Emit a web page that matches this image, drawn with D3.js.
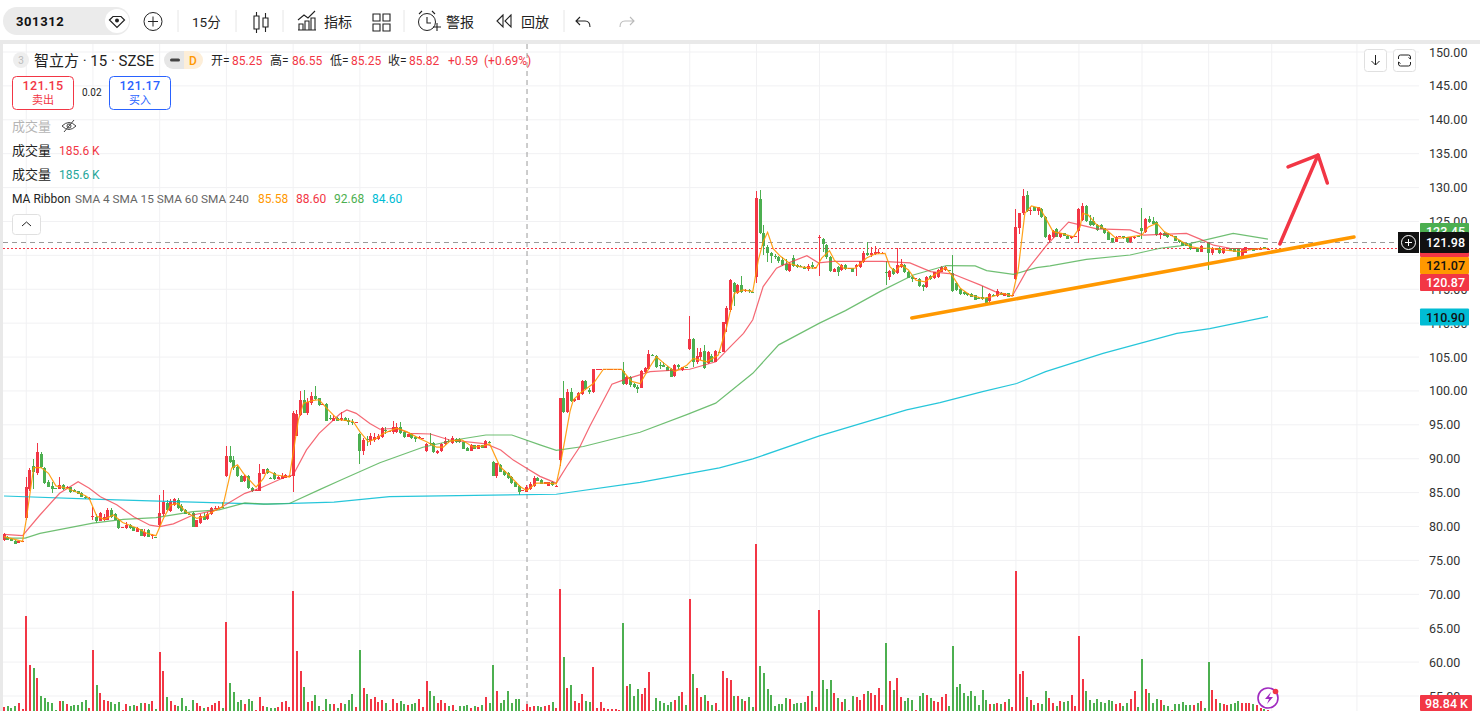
<!DOCTYPE html>
<html>
<head>
<meta charset="utf-8">
<script src="https://cdn.jsdelivr.net/npm/d3@7"></script>
<style>
	body { margin: 0; background: #fff; overflow: hidden; }
	text { font-family: Roboto, "Noto Sans CJK SC", sans-serif; }
</style>
</head>
<body>
<script>
// 15 minute bars, one group of ten per line
const opens = [
	78,78.5,78.2,77.9,77.6,77.8,81.2,85.5,88.9,87.85,
	90.7,88.7,86.6,86,85.65,85.55,86.1,85.75,85.8,85.4,
	85.2,85,84.35,84.2,81.5,81.35,80.85,81,81,82.45,
	81.8,81,79.85,79.75,80.2,79.9,79.25,79.6,78.6,79.5,
	78.7,78.45,80.2,81.85,83.4,82.35,83.2,83.9,83.1,82.45,
	81.9,82,80,80.5,81.55,81.05,81.8,82.7,82.75,82.95,
	87.45,90.4,89.8,88.75,87.45,86.65,87.45,85.75,85.3,85.3,
	87.75,88.45,87.2,87.85,87.05,87.05,87.15,87.4,87.45,93.4,
	96.45,98.65,96.7,98.2,99.3,98.9,98,98.05,96,95.6,
	96.05,95.65,96.05,95.7,95.35,95.35,93.65,91.15,92.9,92.6,
	92.75,92.9,93.25,94.2,94,93.9,94,94.75,93.95,93.25,
	93.65,93.25,93,93,91.15,92.3,92.3,90.8,91.15,92.2,
	92.65,92.3,92.9,92.9,92.4,91.6,91.15,92,91.5,92,
	91.65,92.45,89.5,87.4,89.1,88.25,87.85,87.35,86.5,86,
	85.3,85.15,85.55,86,87.2,86.9,86.3,86.05,86.6,86,
	89.85,98.9,96.85,99.9,98.45,98.7,99.5,101.4,100.15,99.8,
	103.2,103.2,103.2,103.2,103.2,103.2,103.2,102.95,101,102.1,
	101,100.65,100.5,102.75,103.2,105.32,105.2,103.85,103.85,103.6,
	103.3,102.25,103.8,103.1,103.55,106.2,107.65,104.2,105,105.9,
	104.1,105.2,104.3,105.8,105.8,109.9,111.95,115.9,114.4,115.6,
	114.9,114.9,114.55,116.75,128.3,123.25,121.3,120.3,119.95,119.7,
	119.3,118.8,117.75,119.55,118.6,118.5,118.3,117.95,118.6,118.25,
	122.5,122.45,121.5,119.8,117.6,118.3,117.85,118.6,118.05,118.1,
	118.25,118.3,119,120.4,120.1,120.15,120.4,120.4,117.5,116.85,
	118,117.45,118.25,118.6,117.6,116.85,116.6,116.45,115.65,115.3,
	116.95,116.6,116.8,117.6,117.85,117.8,117.35,115.95,115.05,114.65,
	114.4,114.3,114.15,113.7,113.9,113.65,113.2,114.2,114.05,114.5,
	114.05,114.4,114,116.5,124,126.2,128.9,126.65,127.1,126.6,
	126.9,125.7,122.3,122.65,123.9,122.65,123.25,122.9,122.5,122.75,
	123.65,125.2,127.3,125,125,124.5,124.5,124,123.4,122.5,
	122,122.75,122.85,122.65,121.9,122.5,122.8,124.1,123.5,125.35,
	125.1,124.85,123,123.35,123.25,122.9,122.85,122.25,121.95,121.8,
	121.7,121.05,121.1,120.55,121.05,121.9,120.3,120.85,121.15,120.3,
	120.95,121.05,121.05,121.05,119.9,120.4,120.8,121.05,120.9,120.8,
	121.25,120.95
];
const highs = [
	79,78.6,78.3,78,77.9,77.9,87.3,88.6,89.9,92.3,
	91.05,88.8,86.9,86.6,85.7,87.3,86.2,86,85.9,85.5,
	85.3,85.1,84.5,84.3,82.95,81.9,82.2,81.9,82.7,82.7,
	82,81.1,79.95,80.6,80.4,80,79.9,79.7,79.7,79.6,
	78.85,78.5,84.65,85.4,83.9,84,84.2,84.15,83.3,82.6,
	82,82.1,81,81.8,82,82.1,82.85,83.1,83.1,83.6,
	91.95,91.95,90.4,88.9,87.6,87.6,87.6,85.9,85.5,89.2,
	88.5,88.6,87.3,88,87.5,87.9,87.7,87.6,97,97.2,
	100,100.15,98.9,99.9,100.7,99,98.1,98.2,96.4,96.5,
	96.2,96.9,96.2,96,95.9,95.45,93.8,93,93.4,93.8,
	93.75,93.6,94.7,94.7,94.1,95.6,95.2,95.4,94.1,93.7,
	93.8,93.4,93.3,93.1,92.35,93.75,92.4,91.3,92.35,93.25,
	92.9,93.4,93,93,92.5,91.7,92.15,92.1,92.05,92.05,
	92.7,92.6,89.6,89.4,89.2,88.4,88,87.5,86.6,86.1,
	85.4,86.1,86.5,87.4,87.3,87,86.55,86.6,86.7,86.1,
	99,101.5,100.3,100.5,98.9,99.9,101.6,101.6,100.5,103.3,
	103.25,103.25,103.25,103.25,103.25,103.25,103.25,104.3,102.2,102.2,
	101.1,100.9,103.1,103.6,106,105.4,105.3,104.3,104.3,103.7,
	103.4,104,104,103.6,103.6,111,107.8,106.3,106.3,106.8,
	105.9,105.4,106,105.9,110.2,112.5,116.5,116,115.8,116.9,
	115.1,115.1,114.6,129.5,129.65,124.5,121.55,120.5,120.2,119.9,
	119.8,119.5,119,120,118.7,118.6,118.4,118.7,119,118.35,
	123,122.6,121.7,119.9,118.1,118.5,118.7,118.7,118.15,118.2,
	118.7,119.2,120.6,122,121.3,121.4,121,120.5,119.1,117.9,
	118.1,121.05,119.5,118.7,117.7,117,116.7,116.6,115.8,117,
	117.1,117.6,118,118.4,118.5,117.85,120.05,116.1,115.2,114.7,
	114.5,114.4,114.2,113.8,115.5,113.85,114.4,114.3,115,114.6,
	114.5,114.5,114.2,126.8,126.3,129.75,129.5,127.1,127.2,127.2,
	127,125.8,123.1,123.7,124,123.3,123.3,123,122.9,122.85,
	127,127.7,127.4,126,125.7,124.6,124.6,124.1,123.5,122.6,
	122.8,122.85,122.9,122.7,122.7,122.8,122.85,126.95,125.5,125.8,
	125.7,125,123.5,123.4,123.3,123,122.9,122.3,122,121.85,
	121.75,121.15,121.15,121.5,121.1,122,121.2,121.1,121.2,121.1,
	121.1,121.1,121.1,121.1,121,121.25,121.1,121.1,121,121.2,
	121.3,121.05
];
const lows = [
	77.9,78,77.8,77.4,77.5,77.8,80.9,85.3,85.6,87.6,
	88.6,86.3,85.8,85,85.6,85.5,85.4,85.6,85,85.1,
	84.85,84.4,84,84.2,81,80.5,80.8,80.8,80.9,81.3,
	80.9,79.7,79.8,79.6,79.7,79.3,79.2,78.6,78.5,78.4,
	78.2,78.4,80,81.5,82.3,82.2,83,82.6,82.2,81.8,
	81.8,79.9,79.9,80.4,80.9,81,81.7,82.6,82.6,82.8,
	87.3,89.4,88.4,87.3,86.5,86.6,85.6,85.1,85.3,85.2,
	87.7,87.7,87,86.9,87,87,87.1,87.3,85.15,93.3,
	96.3,96.7,96.5,98,98.6,97.8,97.95,95.5,95.7,95.5,
	95.5,95.5,95.5,95,95,95.3,89.25,90.55,91.9,92,
	92.5,92.8,93.1,93.6,93.95,93.7,93.8,93.7,93.1,93.2,
	92.9,92.5,92.95,92.95,91.05,92.1,90.9,90.7,91.05,92,
	92.3,92.2,92.3,92.35,91.45,91.1,91.1,91.45,91.45,91.55,
	91.6,92.3,87.4,87.2,88,87.4,87.05,86.3,85.8,84.65,
	85.25,85.1,85.4,85.9,86.65,86.25,86.25,86,86.05,85.95,
	88.95,96.7,96.7,98.4,98.4,98.6,99.4,100.1,99.6,99.7,
	103.15,103.15,103.15,103.15,103.15,103.15,103.15,100.9,100.9,100.6,
	100.4,99.65,100.4,102.6,103.1,105.25,103.4,103.2,103.5,102.9,
	102,102.1,103.3,103,103.4,106.1,103.6,104,104.5,103.3,
	104,104.2,104.2,105.7,105.7,108.75,111.7,112.6,114.3,114.4,
	114.6,114.4,114.45,115.95,123.1,120.05,119,118.9,119.5,118.9,
	118.5,117.7,117.6,118.3,118.2,118.25,118,117.7,118,118.2,
	116.95,120.5,119.5,117.6,117.5,116.95,117.7,117.8,118,117.55,
	116.95,118.2,118.9,119.9,119.7,120,120.2,120.35,115.6,116.4,
	117.1,117.3,118.1,117.4,116.6,116.1,116.55,115.4,114.8,115.2,
	116.4,116.5,116.7,117.5,117.7,117.7,114.6,114.8,114.1,114.2,
	114.05,113.85,113.35,113.55,113.4,112.9,113,114.05,113.9,114.1,
	114,113.85,113.95,116.3,123.2,125.9,126.4,126,126.55,125.9,
	125.55,122.6,122,122.6,122.7,122.6,122.85,122.35,122.45,122.7,
	121.8,125.1,124.9,124.3,124.4,123.6,123.85,123.2,122.2,121.85,
	121.95,122.7,122.45,121.85,121.85,122.45,122.65,122.4,123.3,124.8,
	124.6,122.9,122.4,122.85,122.5,122.85,122.1,121.85,121.4,121.4,
	120.85,121,120.5,120.5,120.9,117.85,120,120.8,120.25,120.25,
	120.9,120.65,120.5,119.75,119.85,120.35,120.75,120.6,120.85,120.75,
	120.9,120.9
];
const closes = [
	78.9,78,77.8,77.4,77.85,77.85,85.9,88.35,88.05,91,
	88.75,86.4,85.9,85.55,85.6,86.15,85.5,85.8,85.1,85.1,
	84.85,84.4,84.2,84.25,81.6,80.85,82,81.4,82.45,81.4,
	81,79.8,79.9,80.2,79.8,79.4,79.75,78.65,79.25,78.5,
	78.75,78.4,82,83.6,82.45,83.75,84.05,82.7,82.3,81.85,
	81.85,80,80.9,81.55,81,81.85,82.7,82.75,82.8,82.9,
	90.4,89.5,88.6,87.45,86.6,87.45,85.75,85.25,85.4,87.85,
	88.45,87.85,87.1,87,87.35,87.45,87.6,87.5,96.8,96.55,
	98.65,96.8,98.4,99.3,98.75,97.9,98.05,95.6,95.95,96.05,
	95.6,96,95.6,95.35,95.3,95.4,91.15,92.75,92.7,93.35,
	93.15,93.4,94.5,94.1,94.05,94.7,94.65,93.85,93.25,93.65,
	93,92.9,93.25,93.05,92.2,92.2,90.95,91.15,92.2,92.6,
	92.5,93,92.4,92.4,91.5,91.15,92.1,91.5,92,91.6,
	92.65,92.4,87.45,89.3,88.1,87.55,87.1,86.4,85.9,85.15,
	85.35,85.8,86.25,87.1,86.7,86.3,86.5,86.55,86.1,86.05,
	98.9,96.85,99.9,98.55,98.8,99.65,101.5,100.25,99.8,103.2,
	103.2,103.2,103.2,103.2,103.2,103.2,103.2,101.05,102.1,100.9,
	100.65,100.25,102.95,103.35,105.45,105.3,103.6,103.75,103.6,103,
	102.1,103.8,103.5,103.5,103.45,107.65,104.2,105.15,105.75,103.45,
	105.7,104.3,105.9,105.75,110.1,112.2,116.4,114.6,115.6,114.65,
	114.95,114.85,114.5,128.4,123.25,121.4,120.4,119.9,119.85,119.1,
	118.6,117.85,118.8,118.45,118.25,118.3,118.05,118.45,118.25,118.3,
	122.65,121.65,119.7,117.75,118,117.6,118.6,117.95,118.1,117.6,
	118.6,119.1,120.4,120,120.4,120.55,120.45,120.42,117.4,117.75,
	117.2,118.6,118.75,117.5,116.7,116.5,116.65,115.55,115.4,116.85,
	116.5,117.5,117.85,118.25,118.35,117.75,114.75,114.9,114.25,114.25,
	114.1,113.9,113.4,113.6,113.5,113,114.3,114.1,114.8,114.15,
	114.4,113.9,114.1,124.15,126.2,128.75,126.55,126.7,126.6,127.1,
	125.6,122.65,123,123.65,122.75,123.25,122.9,122.4,122.85,122.8,
	126.85,127.3,125,124.5,124.5,123.75,123.9,123.25,122.25,121.9,
	122.75,122.8,122.5,121.9,122.65,122.75,122.7,123.6,125.3,124.85,
	124.7,123,123.35,122.9,122.75,122.95,122.15,121.9,121.45,121.45,
	120.9,121.1,120.55,121.45,120.95,120.3,121.05,121.05,120.3,121.05,
	121.05,120.7,120.55,119.8,120.95,121.2,121.05,120.65,120.95,121.15,
	120.95,121
];
// relative volume, measured from the height of each bar
const volumes = [
	12,15,9,15,24,6,285,138,129,99,
	45,39,27,24,3,30,30,21,15,18,
	18,27,33,9,183,78,54,33,30,27,
	21,27,3,21,15,18,15,24,24,21,
	30,6,177,120,42,30,18,15,39,15,
	3,33,24,15,9,12,18,24,30,9,
	267,84,57,27,33,21,36,30,3,42,
	15,12,9,9,12,27,30,12,360,180,
	120,72,27,30,48,15,3,36,21,21,
	9,24,21,33,51,12,183,69,51,36,
	42,27,33,24,3,36,24,30,21,18,
	21,24,36,12,90,60,45,24,33,24,
	15,18,3,15,15,18,9,15,12,18,
	42,24,138,60,24,33,60,24,36,36,
	3,21,12,15,15,12,15,18,27,9,
	366,162,69,78,30,24,51,30,27,132,
	9,27,9,6,6,6,3,264,75,81,
	45,66,51,69,117,3,39,30,24,18,
	27,33,45,57,18,336,111,69,42,48,
	30,18,24,3,120,99,93,45,45,36,
	30,42,12,501,135,114,66,48,15,21,
	21,39,36,21,24,24,27,45,60,12,
	303,93,66,93,54,39,27,36,3,45,
	42,33,51,60,54,48,69,18,204,90,
	63,99,42,30,39,33,3,45,54,48,
	39,30,27,42,51,15,195,72,81,54,
	45,60,45,18,63,33,21,21,24,21,
	27,36,12,420,111,120,42,33,18,24,
	21,60,39,24,15,30,27,30,48,15,
	225,96,60,33,24,36,27,24,33,30,
	21,24,15,24,36,60,12,156,66,54,
	24,36,33,18,15,3,21,21,27,18,
	18,18,24,30,9,147,63,36,24,21,
	18,21,24,30,24,24,24,21,18,9,
	6,3
];

// moving averages as [bar, price], read where each line bends
const ma4 = [[0,78.5],[5,77.8],[6,81],[8,88.7],[10,88.7],[12,87.85],[14,86],[17,85.65],[22,84.55],[23,84.15],[25,81.55],[27,81.05],[29.5,81.7],[32,80.6],[36,79.75],[38.5,79],[41,78.65],[43,81.2],[45,83.2],[47,83.4],[49,82.2],[52,81.2],[54,81.45],[58,82.7],[59,82.9],[61.4,88.6],[63,89.1],[64.6,87.85],[67,86.4],[68,85.8],[70,87.1],[71,88.25],[73.5,87.6],[77,87.3],[79.4,95.7],[80.8,98.2],[83.5,98.6],[85,98.7],[87.5,97.2],[90,95.8],[94.2,95.5],[96,94],[98.3,92.5],[100.5,93],[102.4,93.75],[106,94.5],[108.6,94],[112,93],[114,92.5],[116.7,91.7],[118.5,91.7],[120.3,92.6],[123.5,92.8],[126.6,91.7],[129.3,91.9],[131,92.2],[133.8,88.85],[136.5,87.45],[139.2,85.9],[141,85.3],[143.7,86.4],[146.4,86.4],[149,86.3],[150,88.85],[152.7,97],[153.6,98.7],[155.4,99.65],[159,101.1],[161.7,103.2],[166.6,103.2],[169.3,101.4],[171.6,101.1],[174.3,103.6],[176,105.05],[178,104.1],[181,102.85],[184.2,103.8],[186,104.8],[189.6,104.3],[192.7,105.3],[195,109.5],[197,114.4],[199.4,114.9],[202,114.65],[203.5,119.3],[204.8,122],[206,123.4],[207.5,121],[209.4,119.9],[212,118.8],[214.8,118.3],[219,118.1],[220.6,119.6],[222.7,120.7],[224,119.3],[226.5,118.1],[229.6,118.1],[232.7,119.6],[235,120.2],[237.7,120.3],[239,118.35],[240.4,117.6],[242,118.6],[244,117.85],[246,116.35],[248.5,116.1],[251,117.1],[254,118.2],[256,116.85],[258,115.15],[260.6,114.15],[264,113.65],[266.5,113.9],[269.5,114.4],[272,114],[273.6,117.85],[275.4,126.2],[277.2,127.3],[279.5,126.95],[281.3,125.2],[283,123.5],[285.3,123.25],[288.5,122.75],[290.3,124.2],[291,126.2],[292.5,125.95],[294.8,124.5],[297.5,123.75],[300,122.5],[303,122.65],[307,123],[308.7,124.2],[311,124.75],[313,123.5],[316.4,122.5],[320,121.3],[322.7,121.05],[325.3,121.05],[329,120.8],[333.5,120.55],[337,120.9],[341,121.05]];
const ma15 = [[0,78.85],[5,78.65],[9.7,81.7],[15,84.9],[20,86.6],[23,85.65],[26,84.4],[30.4,83.2],[35,81.45],[39.4,80.2],[42,80],[45.7,80.4],[51,81.7],[57.4,82.45],[65,84.9],[69,85.65],[76,87.35],[78,87.6],[81.6,91.3],[85,93.75],[90.6,96.6],[92.5,97.2],[95,96.7],[98.7,95.2],[101.4,94.35],[106,94.5],[109.5,93.75],[115,93.65],[120,92.8],[130,92.2],[134,91.3],[137.4,89.8],[141,88.6],[144.6,87.4],[149,86.4],[151.8,88.85],[155.4,91.8],[158,94.75],[164,101],[167,101.6],[174.3,102.85],[185,103.2],[192,104.3],[195.9,106.5],[199.5,108.5],[202,110.5],[204.8,115.4],[208.4,118.1],[210.3,118.6],[216.6,119.95],[219.7,118.9],[223.7,119.1],[237,119.1],[244.4,118.9],[250,117.6],[254.3,117.35],[256,117.25],[263.3,115.65],[267.4,114.65],[272,114],[276,117.85],[281.3,121.5],[287.2,124.9],[290.3,124.5],[294.8,123.9],[303.8,123.75],[307.4,123],[319,123.25],[322.7,122.4],[326.3,121.5],[330.7,121.05],[341,121]];
const ma60 = [[0,78.3],[5.7,78.3],[9.7,79],[24,80.5],[32.2,81.05],[41,81.3],[51,82.2],[58,82.45],[65,83.5],[70,83.3],[77,83.4],[85,85.4],[90.6,86.8],[101.4,89.4],[113,91.7],[122,92.8],[130,93.5],[137,93.5],[144.6,92.04],[149,91.25],[156.3,91.8],[171.6,93.9],[184.2,96.5],[192,98.2],[202,102.6],[209,106.8],[220,110],[227,111.85],[236.3,114.65],[245.3,117.1],[254.3,118.5],[262,118.45],[265.1,117.75],[272.3,117.2],[278.6,118.2],[282.2,118.45],[292,119.4],[303.8,120.05],[311.9,121.05],[317.3,121.4],[331.6,123.25],[341,122.4]];
const ma240 = [[0,84.5],[26,84],[44,83.7],[71,83.3],[89,83.6],[104,84.4],[127,84.6],[149,84.76],[171.6,86.5],[193,88.65],[202,89.97],[220,93.37],[243.5,97.2],[252.5,98.28],[264,99.9],[273.2,101.1],[281,102.85],[296.5,105.55],[316.4,108.5],[325.3,109.2],[341,110.96]];

// hand drawn annotations
const trendLine = [[244.9,110.77],[364.2,122.71]];
const arrowLine = [[344.2,121.68],[354.5,134.8]];
const arrowHead = [[346.4,133.04],[354.5,134.8],[357,130.68]];

const priceTicks = d3.range(55, 151, 5);
const dayStarts = [6,24,42,60,78,96,114,132,150,167,185,203,220,238,256,273,290,307,325,342,365];
const lastPrice = 121.98;
const bidPrice = 121.15;
const crosshairBar = 141.1;

const RED = "#f23645", GREEN = "#4caf50", ORANGE = "#ff9800", CYAN = "#00bcd4";
const width = 1480, height = 711;

const svg = d3.select("body").append("svg")
	.attr("width", width)
	.attr("height", height)
	.style("display", "block");

const x = d3.scaleLinear().domain([0, 341]).range([4, 1268]);
const y = d3.scaleLinear().domain([55, 150]).range([696, 52]);
const yVol = d3.scaleLinear().domain([0, 501]).range([711, 544]);

// page frame
svg.append("rect").attr("x", 0).attr("y", 40).attr("width", width).attr("height", 4).attr("fill", "#e9e9e9");
svg.append("rect").attr("x", 0).attr("y", 40).attr("width", 3).attr("height", height - 40).attr("fill", "#e9e9e9");

// grid
svg.append("g").selectAll("line").data(priceTicks).enter().append("line")
	.attr("x1", 3).attr("x2", 1419)
	.attr("y1", d => y(d)).attr("y2", d => y(d))
	.attr("stroke", "#f1f1f3").attr("stroke-width", 1);
svg.append("g").selectAll("line").data(dayStarts).enter().append("line")
	.attr("x1", d => x(d)).attr("x2", d => x(d))
	.attr("y1", 44).attr("y2", height)
	.attr("stroke", "#f1f1f3").attr("stroke-width", 1);

// price axis
const axis = svg.append("g")
	.attr("transform", "translate(1429,0)")
	.call(d3.axisRight(y).tickValues(priceTicks).tickSize(0).tickPadding(0).tickFormat(d3.format(".2f")));
axis.select(".domain").remove();
axis.selectAll("text").attr("font-size", 12.5).attr("fill", "#333").style("font-family", "Roboto");

// crosshair and price lines
svg.append("line")
	.attr("x1", x(crosshairBar)).attr("x2", x(crosshairBar))
	.attr("y1", 44).attr("y2", height)
	.attr("stroke", "#9a9a9a").attr("stroke-width", 1).attr("stroke-dasharray", "5,4");
svg.append("line")
	.attr("x1", 3).attr("x2", 1398)
	.attr("y1", Math.round(y(lastPrice)) + 0.5).attr("y2", Math.round(y(lastPrice)) + 0.5)
	.attr("stroke", "#9a9a9a").attr("stroke-width", 1).attr("stroke-dasharray", "5,4");
svg.append("line")
	.attr("x1", 3).attr("x2", 1398)
	.attr("y1", Math.round(y(bidPrice)) + 0.5).attr("y2", Math.round(y(bidPrice)) + 0.5)
	.attr("stroke", RED).attr("stroke-width", 1).attr("stroke-dasharray", "2,2");

const isUp = i => closes[i] >= opens[i];
const barColor = i => isUp(i) ? RED : GREEN;

// volume bars
svg.append("g").selectAll("rect").data(volumes).enter().append("rect")
	.attr("x", (d, i) => x(i) - 1)
	.attr("y", d => yVol(d))
	.attr("width", 2)
	.attr("height", d => yVol(0) - yVol(d))
	.attr("fill", (d, i) => barColor(i))
	.attr("shape-rendering", "crispEdges");

// candles
const candles = svg.append("g").selectAll("g").data(opens).enter().append("g");
candles.append("line")
	.attr("x1", (d, i) => x(i)).attr("x2", (d, i) => x(i))
	.attr("y1", (d, i) => y(highs[i])).attr("y2", (d, i) => y(lows[i]))
	.attr("stroke", (d, i) => barColor(i)).attr("stroke-width", 1)
	.attr("shape-rendering", "crispEdges");
candles.append("rect")
	.attr("x", (d, i) => x(i) - 1.5)
	.attr("y", (d, i) => y(Math.max(opens[i], closes[i])))
	.attr("width", 3)
	.attr("height", (d, i) => Math.max(1, Math.abs(y(opens[i]) - y(closes[i]))))
	.attr("fill", (d, i) => barColor(i))
	.attr("shape-rendering", "crispEdges");

// moving averages
const line = d3.line().x(d => x(d[0])).y(d => y(d[1]));
const maLines = [
	{ points: ma240, color: CYAN, opacity: 0.85 },
	{ points: ma60, color: GREEN, opacity: 0.8 },
	{ points: ma15, color: RED, opacity: 0.75 },
	{ points: ma4, color: ORANGE, opacity: 0.9 }
];
svg.append("g").selectAll("path").data(maLines).enter().append("path")
	.attr("d", d => line(d.points))
	.attr("fill", "none")
	.attr("stroke", d => d.color)
	.attr("stroke-opacity", d => d.opacity)
	.attr("stroke-width", 1.2);

// drawn trend line and arrow
svg.append("path").attr("d", line(trendLine)).attr("fill", "none")
	.attr("stroke", ORANGE).attr("stroke-width", 3.5).attr("stroke-linecap", "round");
svg.append("path").attr("d", line(arrowLine)).attr("fill", "none")
	.attr("stroke", RED).attr("stroke-width", 3.5).attr("stroke-linecap", "round");
svg.append("path").attr("d", line(arrowHead)).attr("fill", "none")
	.attr("stroke", RED).attr("stroke-width", 3.5).attr("stroke-linecap", "round").attr("stroke-linejoin", "round");

// helper for the many text labels
function label(txt, px, py, size, color, anchor, weight) {
	return svg.append("text").text(txt)
		.attr("x", px).attr("y", py)
		.attr("font-size", size)
		.attr("fill", color)
		.attr("text-anchor", anchor || "start")
		.attr("font-weight", weight || 400);
}

// price tags on the axis
const priceTags = [
	{ text: "123.45", top: y(123.45) - 9, h: 18, bg: GREEN, fg: "#fff" },
	{ text: "", top: 240, h: 17, bg: RED, fg: "#fff" },
	{ text: "121.98", top: 232, h: 21, bg: "#111", fg: "#fff" },
	{ text: "121.07", top: 257, h: 17, bg: ORANGE, fg: "#111" },
	{ text: "120.87", top: 274, h: 17, bg: RED, fg: "#fff" },
	{ text: "110.90", top: y(110.9) - 8.5, h: 17, bg: CYAN, fg: "#111" }
];
priceTags.forEach(function(t) {
	svg.append("rect").attr("x", 1420).attr("y", t.top).attr("width", 49).attr("height", t.h).attr("rx", 1).attr("fill", t.bg);
	label(t.text, 1465, t.top + t.h / 2 + 4.5, 12.5, t.fg, "end", 500);
});
svg.append("rect").attr("x", 1420).attr("y", 695).attr("width", 52).attr("height", 16).attr("rx", 1).attr("fill", RED);
label("98.84 K", 1468, 707.5, 12.5, "#fff", "end", 500);

// add button next to the last price
svg.append("rect").attr("x", 1398).attr("y", 232).attr("width", 21).attr("height", 21).attr("fill", "#111");
svg.append("circle").attr("cx", 1408.5).attr("cy", 242.5).attr("r", 7).attr("fill", "none").attr("stroke", "#fff");
svg.append("path").attr("d", "M1405,242.5H1412M1408.5,239V246").attr("stroke", "#fff");

// top toolbar
const ink = "#222";
svg.append("rect").attr("x", 3).attr("y", 7).attr("width", 127).attr("height", 28).attr("rx", 14).attr("fill", "#ebebeb");
svg.append("circle").attr("cx", 117).attr("cy", 21).attr("r", 12).attr("fill", "#fff");
label("301312", 16, 26, 13, "#111", "start", 700).attr("letter-spacing", 0.6);
svg.append("path").attr("d", "M109.5,20L113,16.5H121L124.5,20L117,27.5Z").attr("fill", "none").attr("stroke", ink).attr("stroke-width", 1.2);
svg.append("circle").attr("cx", 117).attr("cy", 20.5).attr("r", 2).attr("fill", ink);
svg.append("circle").attr("cx", 153).attr("cy", 21.5).attr("r", 9).attr("fill", "none").attr("stroke", ink);
svg.append("path").attr("d", "M148,21.5H158M153,16.5V26.5").attr("stroke", ink);

const separators = [178, 236, 283, 404, 564];
svg.append("g").selectAll("line").data(separators).enter().append("line")
	.attr("x1", d => d).attr("x2", d => d).attr("y1", 10).attr("y2", 32)
	.attr("stroke", "#e6e6e6");

label("15分", 192, 27, 13.5, ink);
label("指标", 324, 27, 14, ink);
label("警报", 446, 27, 14, ink);
label("回放", 521, 27, 14, ink);

// candle, chart, layout, alarm, rewind, undo and redo icons
const icon = d => svg.append("path").attr("d", d).attr("fill", "none").attr("stroke", ink).attr("stroke-width", 1.1);
icon("M254,16h5v13h-5zM256.5,12v4M256.5,29v4M263,18h5v9h-5zM265.5,13v5M265.5,27v5");
icon("M298,30h18M299,30v-6h4v6M305,30v-9h4v9M311,30v-12h4v12M298,20l6,-5l4,3l7,-7");
icon("M373,14h7v7h-7zM383,14h7v7h-7zM373,24h7v7h-7zM383,24h7v7h-7z");
svg.append("circle").attr("cx", 427).attr("cy", 22).attr("r", 8.5).attr("fill", "none").attr("stroke", ink);
icon("M427,17v6h4M419,14l3,-3M435,14l-3,-3M433,27h8M437,23v8");
icon("M503,15l-6,6l6,6zM511,15l-6,6l6,6z");
icon("M580,17l-4,4l4,4M576,21h9c3,0 5,2 5,6");
svg.append("path").attr("d", "M630,17l4,4l-4,4M634,21h-9c-3,0 -5,2 -5,6").attr("fill", "none").attr("stroke", "#bbb").attr("stroke-width", 1.1);

// legend header
svg.append("circle").attr("cx", 21).attr("cy", 60).attr("r", 8).attr("fill", "#eee");
label("3", 21, 64, 10, "#bbb", "middle");
label("智立方 · 15 · SZSE", 34, 66, 15, "#222");
svg.append("path").attr("d", "M173,51h11v18h-11a9,9 0 0 1 0,-18z").attr("fill", "#e6e6e6");
svg.append("path").attr("d", "M184,51h10a9,9 0 0 1 0,18h-10z").attr("fill", "#fdeed8");
svg.append("rect").attr("x", 170).attr("y", 58.5).attr("width", 10).attr("height", 3).attr("rx", 1.5).attr("fill", "#444");
label("D", 193, 64.5, 12, ORANGE, "middle", 500);

const ohlcNames = ["开=", "高=", "低=", "收="];
const ohlcValues = ["85.25", "86.55", "85.25", "85.82"];
const ohlcNameX = [211, 270, 330, 388];
const ohlcValueX = [232, 292, 351, 409];
ohlcNames.forEach(function(n, i) {
	label(n, ohlcNameX[i], 65, 12, "#222");
	label(ohlcValues[i], ohlcValueX[i], 65, 12, RED);
});
label("+0.59", 448, 65, 12, RED);
label("(+0.69%)", 484, 65, 12, RED);

// bid and ask boxes
svg.append("rect").attr("x", 12.5).attr("y", 76.5).attr("width", 61).attr("height", 33).attr("rx", 4).attr("fill", "#fff").attr("stroke", RED);
label("121.15", 43, 90, 12.5, RED, "middle", 500).attr("letter-spacing", 0.3);
label("卖出", 43, 104, 11, RED, "middle");
label("0.02", 82, 96, 10, "#222");
svg.append("rect").attr("x", 109.5).attr("y", 76.5).attr("width", 61).attr("height", 33).attr("rx", 4).attr("fill", "#fff").attr("stroke", "#2962ff");
label("121.17", 140, 90, 12.5, "#2962ff", "middle", 500).attr("letter-spacing", 0.3);
label("买入", 140, 104, 11, "#2962ff", "middle");

// indicator rows
label("成交量", 12, 131, 13, "#b5b5b5");
svg.append("path").attr("d", "M62,126q7,-7 14,0q-7,7 -14,0zM64,132L74,120").attr("fill", "none").attr("stroke", "#444");
svg.append("circle").attr("cx", 69).attr("cy", 126).attr("r", 2).attr("fill", "none").attr("stroke", "#444");
label("成交量", 12, 155, 13, "#222");
label("185.6 K", 59, 155, 12, RED);
label("成交量", 12, 179, 13, "#222");
label("185.6 K", 59, 179, 12, "#26a69a");
label("MA Ribbon", 12, 203, 12, "#222");
label("SMA 4 SMA 15 SMA 60 SMA 240", 75, 203, 11.8, "#666");

const ribbonValues = ["85.58", "88.60", "92.68", "84.60"];
const ribbonColors = [ORANGE, RED, GREEN, CYAN];
const ribbonX = [258, 296, 334, 372];
ribbonValues.forEach(function(v, i) {
	label(v, ribbonX[i], 203, 12, ribbonColors[i]);
});

svg.append("rect").attr("x", 12.5).attr("y", 214.5).attr("width", 28).attr("height", 20).attr("rx", 3).attr("fill", "#fff").attr("stroke", "#e0e0e0");
svg.append("path").attr("d", "M22,226l4.5,-4l4.5,4").attr("fill", "none").attr("stroke", "#222");

// buttons in the chart corner
svg.append("rect").attr("x", 1364.5).attr("y", 49.5).attr("width", 22).attr("height", 22).attr("rx", 3).attr("fill", "#fff").attr("stroke", "#e0e0e0");
svg.append("path").attr("d", "M1375.5,55v10M1371.5,61l4,4l4,-4").attr("fill", "none").attr("stroke", "#222");
svg.append("rect").attr("x", 1393.5).attr("y", 49.5).attr("width", 22).attr("height", 22).attr("rx", 3).attr("fill", "#fff").attr("stroke", "#e0e0e0");
svg.append("path").attr("d", "M1398.5,59v-2q0,-2 2,-2h8q2,0 2,2v2l-2,-1.5M1410.5,62v2q0,2 -2,2h-8q-2,0 -2,-2v-2l2,1.5").attr("fill", "none").attr("stroke", "#222");

// lightning badge
svg.append("circle").attr("cx", 1268).attr("cy", 698).attr("r", 10).attr("fill", "#fff").attr("stroke", "#a02ac0").attr("stroke-width", 1.6);
svg.append("path").attr("d", "M1271,692l-6,7h4l-2,5l6,-7h-4z").attr("fill", "#a02ac0");
svg.append("circle").attr("cx", 1275.5).attr("cy", 691.5).attr("r", 2.8).attr("fill", RED);
</script>
</body>
</html>
